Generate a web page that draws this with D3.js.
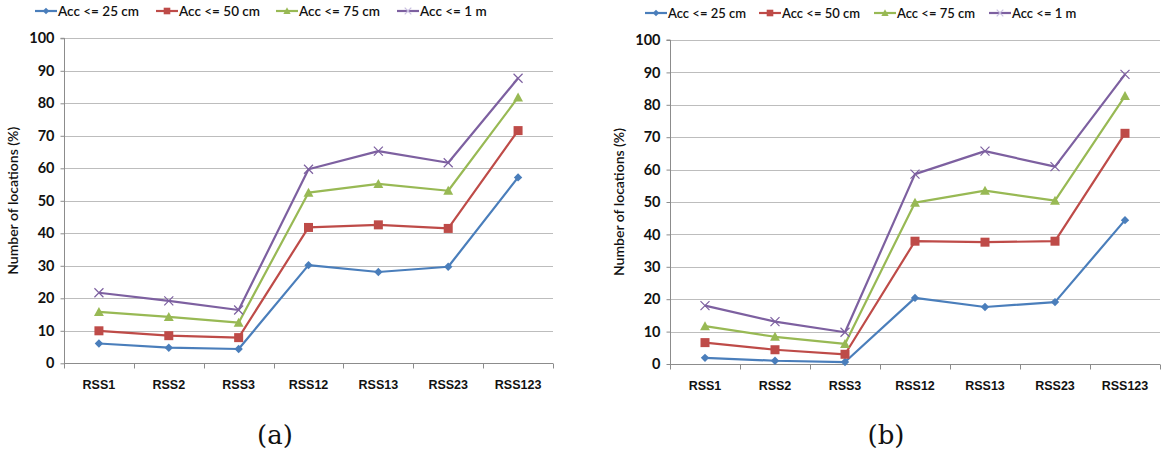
<!DOCTYPE html>
<html><head><meta charset="utf-8">
<script src="https://cdn.jsdelivr.net/npm/d3@7"></script>
<style>body{margin:0;background:#fff}svg{display:block}</style>
</head><body>
<svg id="c" width="1165" height="457"></svg>
<script>
const categories = ["RSS1","RSS2","RSS3","RSS12","RSS13","RSS23","RSS123"];
const seriesNames = ["Acc <= 25 cm","Acc <= 50 cm","Acc <= 75 cm","Acc <= 1 m"];
const yTicks = [0,10,20,30,40,50,60,70,80,90,100];
// panel (a)
const a25 = [6.1,4.8,4.4,30.2,28.1,29.7,57.2];
const a50 = [10.0,8.5,7.9,41.8,42.6,41.5,71.6];
const a75 = [15.8,14.3,12.5,52.5,55.2,53.1,81.8];
const a1m = [21.7,19.2,16.4,59.7,65.3,61.7,87.7];
// panel (b)
const b25 = [1.9,1.0,0.6,20.4,17.6,19.1,44.4];
const b50 = [6.6,4.4,3.0,37.9,37.6,37.9,71.2];
const b75 = [11.7,8.4,6.2,49.8,53.5,50.4,82.7];
const b1m = [18.0,13.1,9.8,58.6,65.7,60.9,89.4];
const captions = ["(a)","(b)"];

const colors = ["#4A7EBB","#BE4B48","#98B954","#7D60A0"];
const markers = ["diamond","square","triangle","x"];
const svg = d3.select("#c");

function drawMarker(g, type, color, s){
  if(type==="diamond") g.append("path").attr("d",`M0,${-s}L${s},0L0,${s}L${-s},0Z`).attr("fill", color);
  else if(type==="square") g.append("rect").attr("x",-s).attr("y",-s).attr("width",2*s).attr("height",2*s).attr("fill",color);
  else if(type==="triangle") g.append("path").attr("d",`M0,${-s*1.1}L${s*1.1},${s*0.9}L${-s*1.1},${s*0.9}Z`).attr("fill", color);
  else g.append("path").attr("d",`M${-s},${-s}L${s},${s}M${-s},${s}L${s},${-s}`).attr("stroke",color).attr("stroke-width",1.2).attr("fill","none");
}

function panel(cfg){
  const {left,right,top,bottom,data,legendX,legendY,legendFont,caption,capX} = cfg;
  const g = svg.append("g");
  const x = d3.scaleBand().domain(categories).range([left,right]).padding(0);
  const y = d3.scaleLinear().domain([0,100]).range([bottom,top]);
  // grid
  g.selectAll(".grid").data(yTicks.filter(t=>t>0)).join("line")
    .attr("x1",left).attr("x2",right).attr("y1",d=>Math.round(y(d))+0.5).attr("y2",d=>Math.round(y(d))+0.5)
    .attr("stroke","#bdbdbd").attr("stroke-width",1);
  // y axis
  const ya = g.append("g").attr("transform",`translate(${left+0.5},0)`)
    .call(d3.axisLeft(y).tickValues(yTicks).tickSize(4).tickPadding(6).tickFormat(d3.format("d")));
  ya.select(".domain").attr("stroke","#8c8c8c").attr("d",`M-4,${y(100)}H0V${y(0)}`);
  ya.selectAll(".tick line").attr("stroke","#8c8c8c");
  ya.selectAll(".tick text").attr("font-family","Lato, 'Open Sans', sans-serif").attr("font-weight","bold").attr("font-size","14.5px").attr("fill","#111");
  // x axis
  const xa = g.append("g").attr("transform",`translate(0,${Math.round(bottom)+0.5})`);
  xa.append("line").attr("x1",left).attr("x2",right).attr("stroke","#8c8c8c");
  const bounds = categories.map(c=>x(c)).concat([right]);
  xa.selectAll(".xt").data(bounds).join("line")
    .attr("x1",d=>Math.round(d)+0.5).attr("x2",d=>Math.round(d)+0.5).attr("y1",0).attr("y2",5).attr("stroke","#8c8c8c");
  xa.selectAll(".xl").data(categories).join("text")
    .attr("x",d=>x(d)+x.bandwidth()/2).attr("y",25).attr("text-anchor","middle")
    .attr("font-family","'Liberation Sans', Arial, sans-serif").attr("font-weight","bold").attr("font-size","12.5px")
    .attr("fill","#111").text(d=>d);
  // y label
  g.append("text").attr("transform",`translate(${left-46},${(top+bottom)/2}) rotate(-90)`)
    .attr("text-anchor","middle").attr("font-family","Lato, 'Open Sans', sans-serif").attr("font-size","14px").attr("font-weight","600").attr("fill","#111")
    .text("Number of locations (%)");
  // lines
  const line = d3.line().x((d,i)=>x(categories[i])+x.bandwidth()/2).y(d=>y(d));
  data.forEach((vals,si)=>{
    g.append("path").datum(vals).attr("d",line).attr("fill","none").attr("stroke",colors[si]).attr("stroke-width",2.2).attr("stroke-linejoin","round");
    vals.forEach((v,i)=>{
      const m = g.append("g").attr("transform",`translate(${x(categories[i])+x.bandwidth()/2},${y(v)})`);
      drawMarker(m, markers[si], colors[si], si===0?4.2:4.5);
    });
  });
  // legend
  seriesNames.forEach((n,si)=>{
    const lg = g.append("g").attr("transform",`translate(${legendX[si]},${legendY})`);
    lg.append("line").attr("x1",0).attr("x2",22).attr("stroke",colors[si]).attr("stroke-width",2.2);
    const m = lg.append("g").attr("transform","translate(11,0)");
    drawMarker(m, markers[si], markers[si]==="x" ? "#c9bfe0" : colors[si], 3.3);
    lg.append("text").attr("x",23).attr("y",5).attr("font-family","Lato, 'Open Sans', sans-serif").attr("font-size",legendFont+"px").attr("font-weight","600").attr("fill","#111").text(n);
  });
  // caption
  svg.append("text").attr("x",capX).attr("y",444).attr("text-anchor","middle")
    .attr("font-family","'DejaVu Serif','Liberation Serif',serif").attr("font-size","26px").attr("fill","#111").text(caption);
}

panel({left:64,right:553,top:38.3,bottom:363.3,data:[a25,a50,a75,a1m],legendX:[35,156,276,397],legendY:11,legendFont:13.5,caption:captions[0],capX:275});
panel({left:670,right:1160,top:40,bottom:364,data:[b25,b50,b75,b1m],legendX:[645,759,874,989],legendY:13,legendFont:13,caption:captions[1],capX:886});
</script>
</body></html>
